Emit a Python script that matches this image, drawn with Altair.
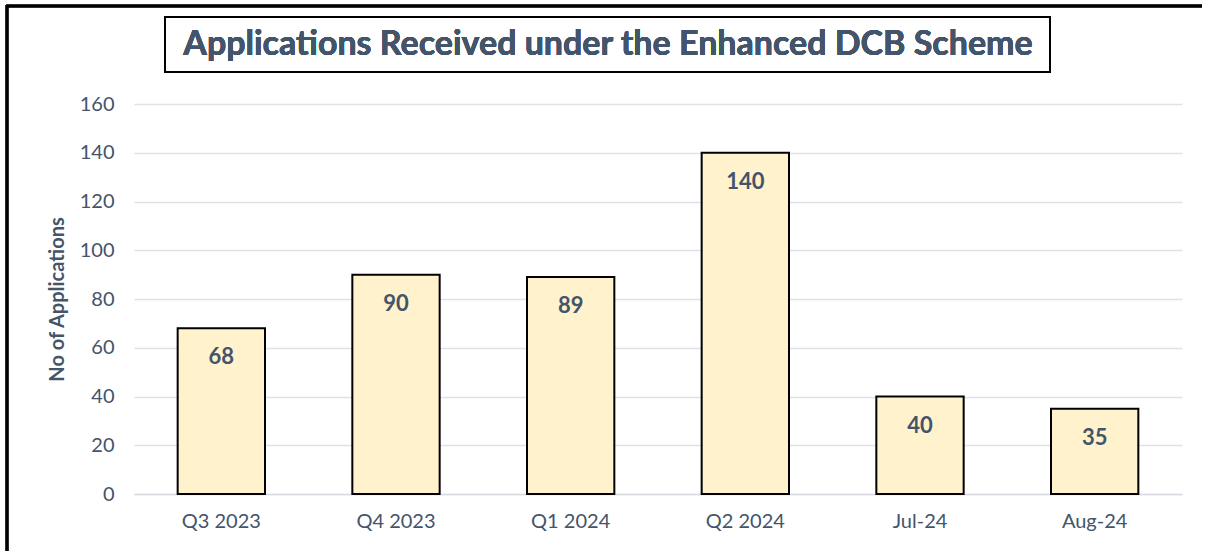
import altair as alt
import pandas as pd

categories = ["Q3 2023", "Q4 2023", "Q1 2024", "Q2 2024", "Jul-24", "Aug-24"]
applications = [68, 90, 89, 140, 40, 35]

df = pd.DataFrame({"period": categories, "count": applications})

SLATE = "#44546A"
FONT = "Lato"

x_enc = alt.X("period:N", sort=categories, title=None,
              scale=alt.Scale(paddingInner=0.5, paddingOuter=0.25),
              axis=alt.Axis(labelAngle=0, labelFontSize=20, labelColor=SLATE,
                            labelFont=FONT, labelPadding=17, ticks=False,
                            domain=True, domainColor="#D9DDE3", domainWidth=1.5))
y_enc = alt.Y("count:Q", title="No of Applications",
              scale=alt.Scale(domain=[0, 160]),
              axis=alt.Axis(values=list(range(0, 161, 20)), labelFontSize=20,
                            labelColor=SLATE, labelFont=FONT, labelPadding=20,
                            ticks=False, domain=False, gridColor="#DDE1E8",
                            gridWidth=1.5, titleFontSize=20, titleFont=FONT,
                            titleFontWeight="bold", titleColor=SLATE,
                            titlePadding=12))

bars = alt.Chart(df).mark_bar(color="#FFF2CC", stroke="black", strokeWidth=2).encode(
    x=x_enc, y=y_enc)

labels = alt.Chart(df).mark_text(fontSize=22, fontWeight="bold", color=SLATE,
                                 font=FONT, baseline="middle", dy=29).encode(
    x=alt.X("period:N", sort=categories),
    y=alt.Y("count:Q"),
    text=alt.Text("count:Q"))

# decorative frames: title box and outer chart border (top and left edges)
title_box = alt.Chart(df).mark_rect(fill="white", stroke="black", strokeWidth=2,
                                    clip=False).encode(
    x=alt.value(31), x2=alt.value(916), y=alt.value(-87), y2=alt.value(-32))

border_top = alt.Chart(df).mark_rule(color="black", strokeWidth=2.5, clip=False).encode(
    x=alt.value(-128), x2=alt.value(1068), y=alt.value(-98))
border_left = alt.Chart(df).mark_rule(color="black", strokeWidth=2.5, clip=False).encode(
    x=alt.value(-127), y=alt.value(-99), y2=alt.value(447))

title_text = alt.Chart(df).mark_text(fontSize=34, fontWeight="bold", color=SLATE,
                                     font=FONT, baseline="middle", align="center",
                                     clip=False).encode(
    x=alt.value(474), y=alt.value(-59),
    text=alt.value("Applications Received under the Enhanced DCB Scheme"))

chart = alt.layer(border_top, border_left, title_box, bars, labels, title_text).properties(
    width=1048, height=390,
    padding={"left": 134, "top": 104, "right": 23, "bottom": 57},
    autosize=alt.AutoSizeParams(type="none"),
    background="white",
).configure_view(stroke=None)

chart.save("out.html", embed_options={"renderer": "svg", "actions": False})
